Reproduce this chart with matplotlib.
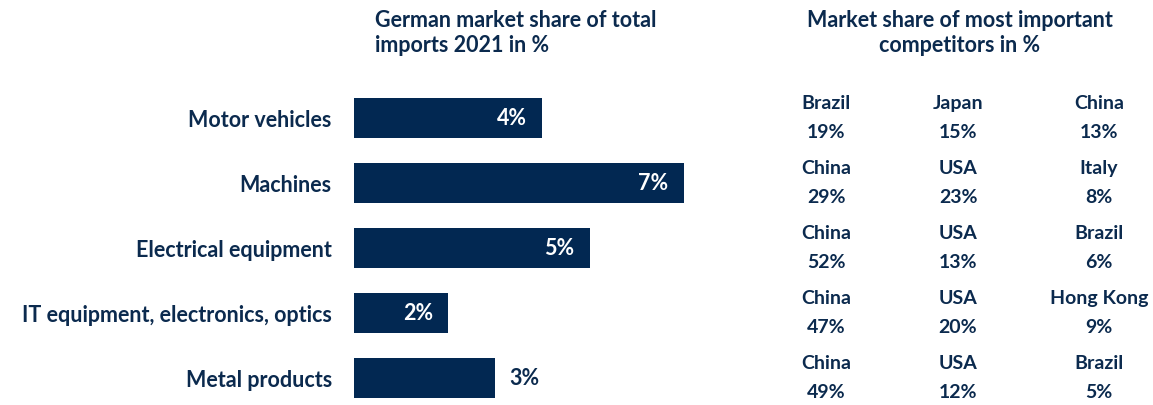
import matplotlib

matplotlib.use("Agg")
import matplotlib.pyplot as plt
from matplotlib.transforms import blended_transform_factory

# German share of total imports 2021, per product group (%)
categories = ["Motor vehicles", "Machines", "Electrical equipment",
              "IT equipment, electronics, optics", "Metal products"]
german_share = [4, 7, 5, 2, 3]

# Three largest competitors per product group and their shares (%)
competitors = [["Brazil", "Japan", "China"],
               ["China", "USA", "Italy"],
               ["China", "USA", "Brazil"],
               ["China", "USA", "Hong Kong"],
               ["China", "USA", "Brazil"]]
competitor_share = [[19, 15, 13],
                    [29, 23, 8],
                    [52, 13, 6],
                    [47, 20, 9],
                    [49, 12, 5]]

NAVY = "#022852"
TEXT = "#0B2A4E"
FONT = ["Lato", "DejaVu Sans"]
FS = 15.5

plt.rcParams["font.family"] = FONT
plt.rcParams["font.weight"] = "bold"

W, H = 1153, 406
fig = plt.figure(figsize=(W / 100, H / 100), dpi=100)
fig.patch.set_facecolor("white")

# axes placed in pixel terms: bars start at x=354, rows 65 px apart
px_per_unit = 47.1
top_px, bottom_px = 86.5, 406
left_px, right_px = 354, 760
ax = fig.add_axes([left_px / W, 1 - bottom_px / H,
                   (right_px - left_px) / W, (bottom_px - top_px) / H])
ax.set_xlim(0, (right_px - left_px) / px_per_unit)
ax.set_ylim((bottom_px - 119) / 65, -0.5)

rows = range(len(categories))
ax.barh(rows, german_share, height=0.63, color=NAVY, edgecolor="none")

ax.set_yticks(list(rows))
ax.set_yticklabels(categories, fontsize=FS, color=TEXT, fontweight="bold")
ax.tick_params(axis="y", length=0, pad=16)
ax.set_xticks([])
for s in ax.spines.values():
    s.set_visible(False)

# value labels: inside the bar, except the last one which sits outside
for i, v in enumerate(german_share):
    if i == len(german_share) - 1:
        ax.annotate(f"{v}%", (v, i), xytext=(10, 0), textcoords="offset points",
                    ha="left", va="center", fontsize=FS, color=TEXT,
                    fontweight="bold")
    else:
        ax.annotate(f"{v}%", (v, i), xytext=(-11, 0), textcoords="offset points",
                    ha="right", va="center", fontsize=FS, color="white",
                    fontweight="bold")

# competitor table on the right
tr = blended_transform_factory(fig.transFigure, ax.transData)
col_x = [826, 958, 1099]
for i in rows:
    for j, x in enumerate(col_x):
        ax.text(x / W, i - 0.245, competitors[i][j], transform=tr,
                ha="center", va="center", fontsize=14, color=TEXT,
                fontweight="bold")
        ax.text(x / W, i + 0.215, f"{competitor_share[i][j]}%", transform=tr,
                ha="center", va="center", fontsize=14, color=TEXT,
                fontweight="bold")

fig.text(375 / W, 1 - 33 / H, "German market share of total\nimports 2021 in %",
         ha="left", va="center", fontsize=FS, color=TEXT, fontweight="bold",
         linespacing=1.25)
fig.text(960 / W, 1 - 33 / H, "Market share of most important\ncompetitors in %",
         ha="center", va="center", fontsize=FS, color=TEXT, fontweight="bold",
         linespacing=1.25, multialignment="center")

fig.savefig("out.png", dpi=100, facecolor="white")
